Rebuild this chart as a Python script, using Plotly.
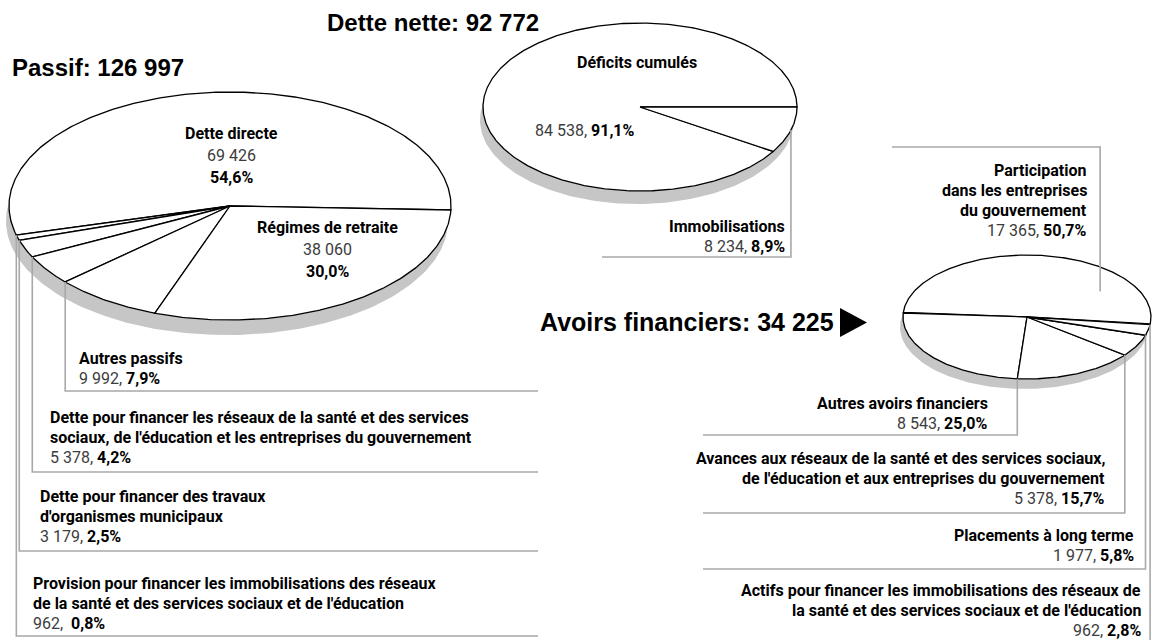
import numpy as np
import plotly.graph_objects as go

# ---------------- DATA ----------------
passif_names = [
    ["Dette directe"],
    ["Provision pour financer les immobilisations des réseaux",
     "de la santé et des services sociaux et de l'éducation"],
    ["Dette pour financer des travaux", "d'organismes municipaux"],
    ["Dette pour financer les réseaux de la santé et des services",
     "sociaux, de l'éducation et les entreprises du gouvernement"],
    ["Autres passifs"],
    ["Régimes de retraite"],
]
passif_values = [69426, 962, 3179, 5378, 9992, 38060]
passif_pct = ["54,6%", "0,8%", "2,5%", "4,2%", "7,9%", "30,0%"]

dette_names = [["Déficits cumulés"], ["Immobilisations"]]
dette_values = [84538, 8234]
dette_pct = ["91,1%", "8,9%"]

avoirs_names = [
    ["Participation", "dans les entreprises", "du gouvernement"],
    ["Autres avoirs financiers"],
    ["Avances aux réseaux de la santé et des services sociaux,",
     "de l'éducation et aux entreprises du gouvernement"],
    ["Placements à long terme"],
    ["Actifs pour financer les immobilisations des réseaux de",
     "la santé et des services sociaux et de l'éducation"],
]
avoirs_values = [17365, 8543, 5378, 1977, 962]
avoirs_pct = ["50,7%", "25,0%", "15,7%", "5,8%", "2,8%"]

titles = ["Passif", "Dette nette", "Avoirs financiers"]

# ---------------- STYLE ----------------
FONT = "Roboto, Liberation Sans, Arial, sans-serif"
FS = 16
TFONT = "Liberation Sans, Arial, sans-serif"
LEADER = "#a8a8a8"
SHADOW = "#c6c6c6"
VALCOL = "#3c3c3c"


def fmt(v):
    return f"{v:,}".replace(",", " ")


fig = go.Figure()


def ept(cx, cy, a, b, deg):
    r = np.radians(deg)
    return cx + a * np.cos(r), cy - b * np.sin(r)


def add_pie(cx, cy, a, b, depth, shift, values, start):
    t = np.linspace(0, 2 * np.pi, 240)
    fig.add_trace(go.Scatter(
        x=cx - shift + a * np.cos(t), y=cy + depth - b * np.sin(t),
        mode="lines", fill="toself", fillcolor=SHADOW,
        line=dict(width=0, color=SHADOW), hoverinfo="skip"))
    total = float(sum(values))
    bounds = [start]
    for v in values:
        bounds.append(bounds[-1] + 360.0 * v / total)
    for i in range(len(values)):
        a0, a1 = bounds[i], bounds[i + 1]
        n = max(4, int(abs(a1 - a0) * 1.5))
        ang = np.radians(np.linspace(a0, a1, n))
        xs = np.concatenate([[cx], cx + a * np.cos(ang), [cx]])
        ys = np.concatenate([[cy], cy - b * np.sin(ang), [cy]])
        fig.add_trace(go.Scatter(
            x=xs, y=ys, mode="lines", fill="toself", fillcolor="white",
            line=dict(color="black", width=1.3), hoverinfo="skip"))
    return bounds


def line(xs, ys):
    fig.add_trace(go.Scatter(x=xs, y=ys, mode="lines",
                             line=dict(color=LEADER, width=1.6),
                             hoverinfo="skip"))


def text(x, y, s, anchor="left", size=FS, bold=False, family=FONT, color="black"):
    if bold:
        s = "<b>" + s + "</b>"
    fig.add_annotation(x=x, y=y, xref="x", yref="y", text=s, showarrow=False,
                       xanchor=anchor, yanchor="middle",
                       font=dict(family=family, size=size, color=color))


def val_pct(v, p, sep=", "):
    return f"<span style='color:{VALCOL}'>{fmt(v)}{sep}</span><b>{p}</b>"


# ---------------- PASSIF ----------------
PC = dict(cx=230, cy=206, a=221, b=114)
pb = add_pie(PC["cx"], PC["cy"], PC["a"], PC["b"], 15, 3, passif_values, -2)

# inside labels
text(231, 133, passif_names[0][0], "center", bold=True)
text(231, 155, f"<span style='color:{VALCOL}'>{fmt(passif_values[0])}</span>", "center")
text(231, 177, passif_pct[0], "center", bold=True)
text(327, 227, passif_names[5][0], "center", bold=True)
text(327, 249, f"<span style='color:{VALCOL}'>{fmt(passif_values[5])}</span>", "center")
text(327, 271, passif_pct[5], "center", bold=True)

# outside labels: (slice index, text x, first line y, leader y)
passif_out = [(4, 77, 358, 391), (3, 48, 417, 472), (2, 38, 496, 551), (1, 31, 583, 636)]
for idx, tx, ty, ly in passif_out:
    lx, lyr = ept(PC["cx"], PC["cy"], PC["a"], PC["b"], pb[idx])
    line([lx, lx, 538], [lyr, ly, ly])
    y = ty
    for nm in passif_names[idx]:
        text(tx, y, nm, "left", bold=True)
        y += 20
    sep = ",  " if idx == 1 else ", "
    text(tx, y, val_pct(passif_values[idx], passif_pct[idx], sep), "left")

text(10, 67, f"{titles[0]}: {fmt(sum(passif_values))}", "left", size=24,
     bold=True, family=TFONT)

# ---------------- DETTE NETTE ----------------
DC = dict(cx=640, cy=107, a=157, b=84)
db = add_pie(DC["cx"], DC["cy"], DC["a"], DC["b"], 13, 3, dette_values, 0)
text(637, 62, dette_names[0][0], "center", bold=True)
text(585, 130, val_pct(dette_values[0], dette_pct[0]), "center")
mid = 0.5 * (db[1] + db[2])
lx, lyr = ept(DC["cx"], DC["cy"], DC["a"], DC["b"], mid)
line([lx, lx, 602], [lyr, 257, 257])
text(787, 226, dette_names[1][0], "right", bold=True)
text(787, 246, val_pct(dette_values[1], dette_pct[1]), "right")
text(325, 22, f"{titles[1]}: {fmt(sum(dette_values))}", "left", size=24,
     bold=True, family=TFONT)

# ---------------- AVOIRS FINANCIERS ----------------
AC = dict(cx=1027, cy=317, a=124, b=62)
ab = add_pie(AC["cx"], AC["cy"], AC["a"], AC["b"], 10, 3, avoirs_values, -7)

# Participation leader (anchor inside its slice)
px, py = ept(AC["cx"], AC["cy"], AC["a"] * 0.72, AC["b"] * 0.72, 35)
line([px, px, 892], [py, 147, 147])
y = 170
for nm in avoirs_names[0]:
    text(1089, y, nm, "right", bold=True)
    y += 20
text(1089, y, val_pct(avoirs_values[0], avoirs_pct[0]), "right")

avoirs_out = [(1, 990, 403, 435), (2, 1107, 458, 513), (3, 1136, 535, 569),
              (4, 1143, 590, None)]
for idx, tx, ty, ly in avoirs_out:
    lx, lyr = ept(AC["cx"], AC["cy"], AC["a"], AC["b"], ab[idx + 1])
    if ly is None:
        line([lx, lx], [lyr, 642])
    else:
        line([lx, lx, 703], [lyr, ly, ly])
    y = ty
    for nm in avoirs_names[idx]:
        text(tx, y, nm, "right", bold=True)
        y += 20
    text(tx, y, val_pct(avoirs_values[idx], avoirs_pct[idx]), "right")

text(538, 322, f"{titles[2]}: {fmt(sum(avoirs_values))}", "left", size=25,
     bold=True, family=TFONT)
fig.add_shape(type="path", path="M 840 308 L 867 322.5 L 840 337 Z",
              xref="x", yref="y", fillcolor="black", line=dict(width=0))

fig.update_layout(
    width=1152, height=640, autosize=False,
    margin=dict(l=0, r=0, t=0, b=0),
    paper_bgcolor="white", plot_bgcolor="white",
    showlegend=False,
    xaxis=dict(range=[0, 1152], visible=False, fixedrange=True),
    yaxis=dict(range=[640, 0], visible=False, fixedrange=True),
)

fig.write_html("out.html",
               post_script="document.body.style.margin='0px';"
                           "document.body.style.padding='0px';",
               config={"displayModeBar": False})
